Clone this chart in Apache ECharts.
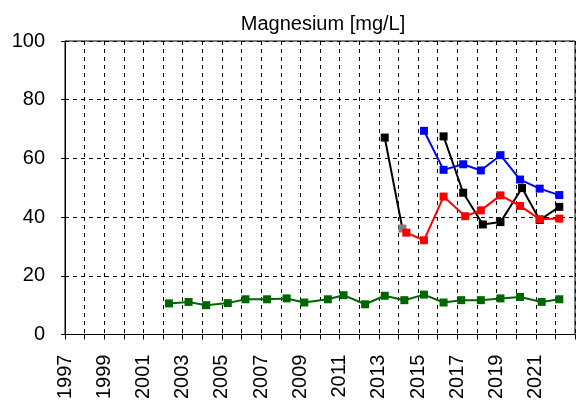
<!DOCTYPE html>
<html>
<head>
<meta charset="utf-8">
<script src="https://cdn.jsdelivr.net/npm/echarts@6/dist/echarts.min.js"></script>
<style>html,body{margin:0;padding:0;background:#fff}#c{width:576px;height:402px}</style>
</head>
<body>
<div id="c"></div>
<script>
var title = 'Magnesium [mg/L]';
var yTicks = [0, 20, 40, 60, 80, 100];

var greenX = [2002.3, 2003.3, 2004.2, 2005.3, 2006.2, 2007.3, 2008.3, 2009.2, 2010.4, 2011.2, 2012.3, 2013.3, 2014.3, 2015.3, 2016.3, 2017.2, 2018.2, 2019.2, 2020.2, 2021.3, 2022.2];
var greenY = [10.6, 11.1, 10.0, 10.7, 12.0, 12.0, 12.3, 10.9, 12.0, 13.4, 10.3, 13.2, 11.7, 13.6, 10.9, 11.7, 11.7, 12.3, 12.8, 11.1, 12.0];

var blackX = [2013.3, 2014.2, 2015.3, 2016.3, 2017.3, 2018.3, 2019.2, 2020.3, 2021.2, 2022.2];
var blackY = [67.1, 36.1, null, 67.5, 48.3, 37.5, 38.3, 49.9, 39.0, 43.5];

var blueX = [2015.3, 2016.3, 2017.3, 2018.2, 2019.2, 2020.2, 2021.2, 2022.2];
var blueY = [69.4, 56.1, 58.0, 55.9, 61.1, 52.8, 49.7, 47.5];

var redX = [2014.4, 2015.3, 2016.3, 2017.4, 2018.2, 2019.2, 2020.2, 2021.2, 2022.2];
var redY = [34.7, 32.1, 47.0, 40.3, 42.3, 47.4, 43.8, 39.3, 39.5];

function pairs(xs, ys) {
  return xs.map(function (x, i) { return [x, ys[i]]; });
}
function mkSeries(name, xs, ys, color, z) {
  return {
    name: name, type: 'line', data: pairs(xs, ys), connectNulls: false,
    symbol: 'rect', symbolSize: 8, z: z,
    lineStyle: { color: color, width: 2 },
    itemStyle: { color: color },
    animation: false
  };
}
var blackSeries = mkSeries('black', blackX, blackY, '#000000', 3);
blackSeries.data[1] = { value: blackSeries.data[1], itemStyle: { color: '#808080' } };

var chart = echarts.init(document.getElementById('c'), null, { renderer: 'canvas' });
chart.setOption({
  animation: false,
  title: { text: title, left: 318, top: 9, textAlign: 'center',
    textStyle: { fontFamily: 'Liberation Sans, Arial', fontSize: 20, fontWeight: 'normal', color: '#000' } },
  grid: { left: 65, right: 1, top: 41, bottom: 65, show: true, borderColor: '#000', borderWidth: 1 },
  xAxis: {
    type: 'value', min: 1997, max: 2023, interval: 1,
    axisLine: { show: true, lineStyle: { color: '#000', width: 1 } },
    axisTick: { show: true, length: 5, lineStyle: { color: '#000' } },
    axisLabel: { rotate: 90, fontSize: 20, color: '#000', fontFamily: 'Liberation Sans, Arial', margin: 20,
      formatter: function (v) { return (Math.round(v) === v && v % 2 === 1 && v < 2023) ? String(v) : ''; } },
    splitLine: { show: true, lineStyle: { color: '#000', type: [4, 4], width: 1 } }
  },
  yAxis: {
    type: 'value', min: yTicks[0], max: yTicks[yTicks.length - 1], interval: 20,
    axisLine: { show: true, lineStyle: { color: '#000', width: 1 } },
    axisTick: { show: true, length: 4, lineStyle: { color: '#000' } },
    axisLabel: { fontSize: 20, color: '#000', fontFamily: 'Liberation Sans, Arial', margin: 20 },
    splitLine: { show: true, lineStyle: { color: '#000', type: [4, 4], width: 1 } }
  },
  series: [
    mkSeries('green', greenX, greenY, '#006600', 2),
    blackSeries,
    mkSeries('blue', blueX, blueY, '#0000ff', 4),
    mkSeries('red', redX, redY, '#ff0000', 5)
  ]
});
</script>
</body>
</html>
